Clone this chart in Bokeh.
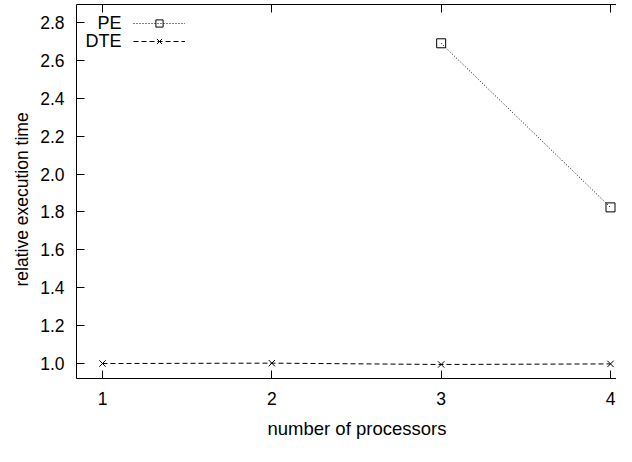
from bokeh.plotting import figure
from bokeh.models import (Range1d, FixedTicker, PrintfTickFormatter, LinearAxis,
                          Legend, LegendItem, Label, Title, ColumnDataSource)
from bokeh.embed import file_html
from bokeh.resources import INLINE

# ---- data ----
processors_pe = [3, 4]
pe_values = [2.69, 1.824]
processors_dte = [1, 2, 3, 4]
dte_values = [1.0, 1.002, 0.995, 0.998]
x_ticks = [1, 2, 3, 4]
y_ticks = [1.0, 1.2, 1.4, 1.6, 1.8, 2.0, 2.2, 2.4, 2.6, 2.8]
series_names = ["PE", "DTE"]
x_title = "number of processors"
y_title = "relative execution time"

FONT = "Liberation Sans"
TICK_FS = "17.5px"

p = figure(width=616, height=446, output_backend="svg", toolbar_location=None,
           x_range=Range1d(0.8465, 4.0354), y_range=Range1d(0.921, 2.8947),
           min_border_left=76, min_border_right=0, min_border_top=4,
           min_border_bottom=67, x_axis_location=None, y_axis_location=None)
p.outline_line_color = None
p.grid.visible = False
p.background_fill_color = "white"
p.border_fill_color = "white"


def style_axis(ax, labels=True):
    ax.axis_line_color = "black"
    ax.axis_line_width = 1
    ax.major_tick_in = 8
    ax.major_tick_out = 0
    ax.major_tick_line_color = "black"
    ax.minor_tick_line_color = None
    ax.major_label_text_font = FONT
    if labels:
        ax.major_label_text_font_size = TICK_FS
        ax.major_label_text_color = "black"
    else:
        ax.major_label_text_font_size = "1px"
        ax.major_label_text_color = None
        ax.major_label_text_alpha = 0
        ax.major_label_standoff = 0


xaxis = LinearAxis(ticker=FixedTicker(ticks=x_ticks),
                   formatter=PrintfTickFormatter(format="%d"))
style_axis(xaxis)
xaxis.major_label_standoff = 13
p.add_layout(xaxis, "below")
p.add_layout(Title(text=x_title, align="left", offset=191, standoff=16,
                   text_font=FONT, text_font_size="18.5px",
                   text_font_style="normal", text_color="black"), "below")

yaxis = LinearAxis(ticker=FixedTicker(ticks=y_ticks),
                   formatter=PrintfTickFormatter(format="%.1f"))
style_axis(yaxis)
yaxis.major_label_standoff = 12
p.add_layout(yaxis, "left")
p.add_layout(Title(text=y_title, align="left", offset=92, standoff=12,
                   text_font=FONT, text_font_size="17.5px",
                   text_font_style="normal", text_color="black"), "left")

top = LinearAxis(ticker=FixedTicker(ticks=x_ticks))
style_axis(top, labels=False)
p.add_layout(top, "above")

src_pe = ColumnDataSource(dict(x=processors_pe, y=pe_values))
src_dte = ColumnDataSource(dict(x=processors_dte, y=dte_values))

pe_line = p.line("x", "y", source=src_pe, line_color="black", line_width=1,
                 line_dash="1 2")
pe_mark = p.scatter("x", "y", source=src_pe, marker="square", size=9,
                    fill_color=None, line_color="black", line_width=1)
dte_line = p.line("x", "y", source=src_dte, line_color="black", line_width=1,
                  line_dash="5 3")
dte_mark = p.scatter("x", "y", source=src_dte, marker="x", size=9,
                     line_color="black", line_width=1)

legend = Legend(items=[LegendItem(label=" ", renderers=[pe_line, pe_mark]),
                       LegendItem(label=" ", renderers=[dte_line, dte_mark])],
                location=(57, 328), glyph_width=52, glyph_height=18,
                label_height=18, label_width=0, label_standoff=0,
                label_text_font_size="1px", label_text_color=None,
                label_text_alpha=0,
                spacing=0, padding=0, margin=0, border_line_color=None,
                background_fill_alpha=0)
p.add_layout(legend, "center")

for i, name in enumerate(series_names):
    p.add_layout(Label(x=45, y=355.7 - 18.4 * i, x_units="screen", y_units="screen",
                       text=name, text_align="right", text_baseline="middle",
                       text_font=FONT, text_font_size="18px",
                       text_color="black"))

open("out.html", "w").write(file_html(p, INLINE))
